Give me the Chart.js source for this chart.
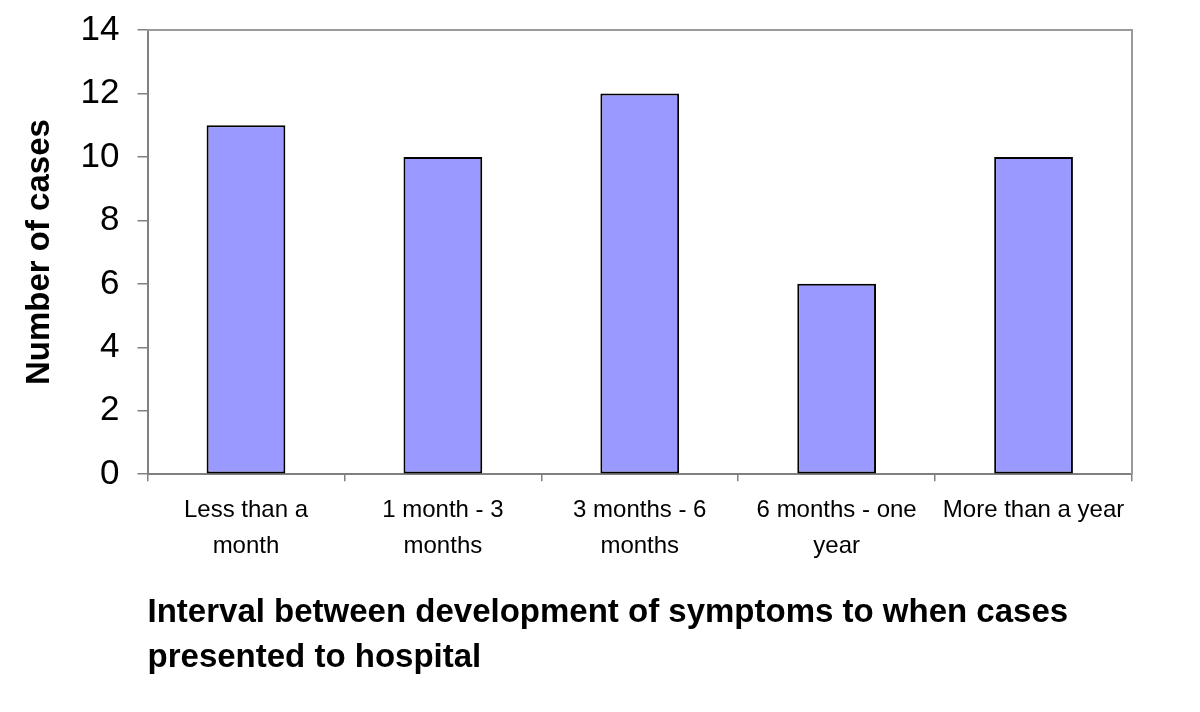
<!DOCTYPE html>
<html>
<head>
<meta charset="utf-8">
<script src="https://cdn.jsdelivr.net/npm/chart.js@4"></script>
<style>
  html, body { margin: 0; padding: 0; background: #fff; }
  #wrap { width: 1200px; height: 712px; }
</style>
</head>
<body>
<div id="wrap"><canvas id="chart"></canvas></div>
<script>
// categories and values
const categories = [
    ['Less than a', 'month'],
    ['1 month - 3', 'months'],
    ['3 months - 6', 'months'],
    ['6 months - one', 'year'],
    ['More than a year'],
];
const caseCounts = [11, 10, 12, 6, 10];
const yTicks = [0, 2, 4, 6, 8, 10, 12, 14];

const FONT = "'Liberation Sans', Arial, sans-serif";
const AXIS_GREY = '#808080';

// grey frame round the plot area (top and right edges)
const plotFrame = {
    id: 'plotFrame',
    beforeDatasetsDraw(chart) {
        const a = chart.chartArea;
        const ctx = chart.ctx;
        ctx.save();
        ctx.strokeStyle = '#9a9a9a';
        ctx.lineWidth = 2;
        ctx.beginPath();
        ctx.moveTo(a.left, a.top);
        ctx.lineTo(a.right, a.top);
        ctx.lineTo(a.right, a.bottom);
        ctx.stroke();
        ctx.restore();
    },
};

new Chart(document.getElementById('chart'), {
    type: 'bar',
    data: {
        labels: categories,
        datasets: [{
            data: caseCounts,
            backgroundColor: '#9999ff',
            borderColor: '#000000',
            borderWidth: 2,
            borderSkipped: false,
            categoryPercentage: 0.4,
            barPercentage: 1.0,
        }],
    },
    options: {
        responsive: true,
        maintainAspectRatio: false,
        animation: false,
        layout: { padding: { top: 30, right: 68, left: 20, bottom: 32 } },
        plugins: {
            legend: { display: false },
            tooltip: { enabled: false },
        },
        scales: {
            x: {
                offset: true,
                grid: {
                    offset: true,
                    drawOnChartArea: false,
                    drawTicks: true,
                    tickLength: 7,
                    color: AXIS_GREY,
                    lineWidth: 1.5,
                },
                border: { color: AXIS_GREY, width: 2 },
                ticks: {
                    color: '#000',
                    font: { family: FONT, size: 24, lineHeight: 1.5 },
                    padding: 11,
                    maxRotation: 0,
                    autoSkip: false,
                },
                title: {
                    display: true,
                    align: 'start',
                    text: ['Interval between development of symptoms to when cases', 'presented to hospital'],
                    color: '#000',
                    font: { family: FONT, size: 33, weight: 'bold', lineHeight: 1.36 },
                    padding: { top: 15, bottom: 0 },
                },
            },
            y: {
                min: 0,
                max: 14,
                afterBuildTicks(scale) {
                    scale.ticks = yTicks.map(v => ({ value: v }));
                },
                // let the layout padding alone decide where the plot starts
                afterFit(scale) {
                    scale.paddingTop = 0;
                },
                grid: {
                    drawOnChartArea: false,
                    drawTicks: true,
                    tickLength: 10,
                    color: AXIS_GREY,
                    lineWidth: 1.5,
                },
                border: { color: AXIS_GREY, width: 2 },
                ticks: {
                    color: '#000',
                    font: { family: FONT, size: 35 },
                    padding: 18,
                },
                title: {
                    display: true,
                    text: 'Number of cases',
                    color: '#000',
                    font: { family: FONT, size: 33, weight: 'bold' },
                    padding: { top: 0, bottom: 3 },
                },
            },
        },
    },
    plugins: [plotFrame],
});
</script>
</body>
</html>
